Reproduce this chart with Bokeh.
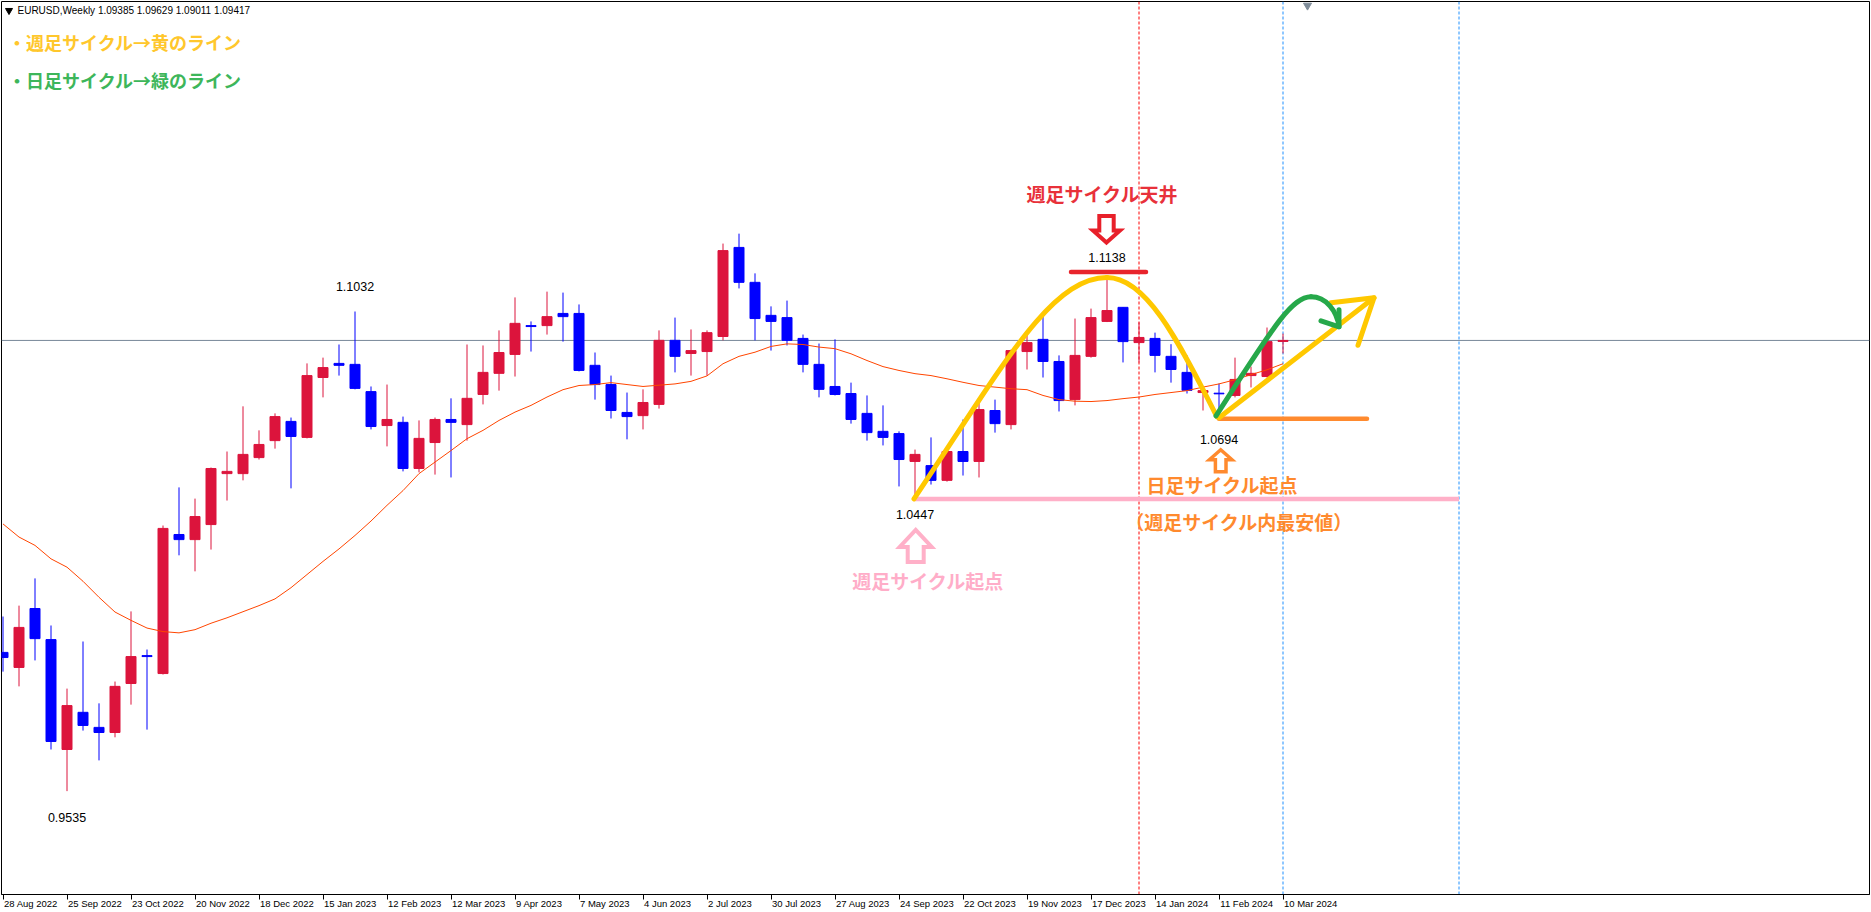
import numpy as np
from bokeh.plotting import figure
from bokeh.models import Range1d, FixedTicker, Span
from bokeh.core.properties import value
from bokeh.embed import file_html
from bokeh.resources import INLINE

# ---------------- data ----------------
symbol = "EURUSD"
timeframe = "Weekly"
tick_labels = ["28 Aug 2022", "25 Sep 2022", "23 Oct 2022", "20 Nov 2022", "18 Dec 2022",
               "15 Jan 2023", "12 Feb 2023", "12 Mar 2023", "9 Apr 2023", "7 May 2023",
               "4 Jun 2023", "2 Jul 2023", "30 Jul 2023", "27 Aug 2023", "24 Sep 2023",
               "22 Oct 2023", "19 Nov 2023", "17 Dec 2023", "14 Jan 2024", "11 Feb 2024",
               "10 Mar 2024"]
tick_every = 4

opens = [0.9968, 0.9921, 1.0105, 1.0008, 0.9665, 0.9781, 0.9734, 0.9718, 0.9871, 0.9958,
         0.9902, 1.0336, 1.0320, 1.0367, 1.0526, 1.0526, 1.0576, 1.0629, 1.0689, 1.0639,
         1.0826, 1.0870, 1.0867, 1.0782, 1.0676, 1.0686, 1.0542, 1.0623, 1.0695, 1.0679,
         1.0773, 1.0839, 1.0898, 1.0988, 1.0988, 1.1026, 1.1026, 1.0864, 1.0804, 1.0717,
         1.0707, 1.0742, 1.0942, 1.0901, 1.0907, 1.0954, 1.1232, 1.1123, 1.1020, 1.1013,
         1.0948, 1.0867, 1.0798, 1.0776, 1.0714, 1.0658, 1.0651, 1.0564, 1.0551, 1.0505,
         1.0595, 1.0564, 1.0723, 1.0679, 1.0907, 1.0945, 1.0876, 1.0757, 1.0892, 1.1001,
         1.1045, 1.0935, 1.0948, 1.0892, 1.0842, 1.0779, 1.0777, 1.0770, 1.0832, 1.0829,
         1.09385]
highs = [1.0080, 1.0114, 1.0199, 1.0052, 0.9855, 1.0002, 0.9809, 0.9877, 1.0096, 0.9977,
         1.0364, 1.0483, 1.0448, 1.0545, 1.0595, 1.0736, 1.0661, 1.0714, 1.0701, 1.0870,
         1.0888, 1.0929, 1.1032, 1.0798, 1.0804, 1.0704, 1.0692, 1.0701, 1.0761, 1.0929,
         1.0926, 1.0973, 1.1076, 1.1001, 1.1094, 1.1091, 1.1054, 1.0904, 1.0832, 1.0779,
         1.0789, 1.0973, 1.1013, 1.0976, 1.0973, 1.1244, 1.1275, 1.1151, 1.1048, 1.1066,
         1.0960, 1.0932, 1.0945, 1.0810, 1.0770, 1.0739, 1.0658, 1.0601, 1.0639, 1.0611,
         1.0695, 1.0754, 1.0757, 1.0913, 1.0966, 1.1016, 1.0895, 1.1010, 1.1041, 1.1138,
         1.1046, 1.0998, 1.0966, 1.0930, 1.0895, 1.0789, 1.0807, 1.0888, 1.0860, 1.0982,
         1.09629]
lows = [0.9908, 0.9862, 0.9943, 0.9665, 0.9535, 0.9724, 0.9631, 0.9703, 0.9805, 0.9727,
        0.9899, 1.0271, 1.0221, 1.0289, 1.0442, 1.0505, 1.0570, 1.0604, 1.0480, 1.0636,
        1.0764, 1.0832, 1.0789, 1.0664, 1.0611, 1.0533, 1.0530, 1.0523, 1.0514, 1.0629,
        1.0742, 1.0785, 1.0829, 1.0907, 1.0960, 1.0938, 1.0845, 1.0757, 1.0698, 1.0633,
        1.0664, 1.0729, 1.0842, 1.0832, 1.0832, 1.0942, 1.1104, 1.0942, 1.0910, 1.0926,
        1.0842, 1.0764, 1.0770, 1.0682, 1.0629, 1.0614, 1.0486, 1.0447, 1.0492, 1.0501,
        1.0520, 1.0514, 1.0654, 1.0664, 1.0851, 1.0826, 1.0720, 1.0739, 1.0888, 1.0999,
        1.0873, 1.0873, 1.0842, 1.0810, 1.0776, 1.0723, 1.0694, 1.0764, 1.0795, 1.0826,
        1.09011]
closes = [0.9952, 1.0046, 1.0011, 0.9690, 0.9802, 0.9740, 0.9718, 0.9862, 0.9955, 0.9955,
          1.0355, 1.0320, 1.0392, 1.0542, 1.0533, 1.0586, 1.0617, 1.0704, 1.0642, 1.0832,
          1.0857, 1.0864, 1.0792, 1.0673, 1.0695, 1.0542, 1.0636, 1.0695, 1.0686, 1.0761,
          1.0842, 1.0904, 1.0995, 1.0985, 1.1016, 1.1016, 1.0848, 1.0804, 1.0723, 1.0704,
          1.0748, 1.0942, 1.0892, 1.0910, 1.0966, 1.1222, 1.1123, 1.1010, 1.1001, 1.0942,
          1.0867, 1.0789, 1.0773, 1.0695, 1.0654, 1.0639, 1.0570, 1.0586, 1.0505, 1.0595,
          1.0564, 1.0726, 1.0682, 1.0910, 1.0935, 1.0876, 1.0754, 1.0895, 1.1013, 1.1035,
          1.0938, 1.0951, 1.0895, 1.0851, 1.0786, 1.0785, 1.0775, 1.0820, 1.0839, 1.0938,
          1.09417]
ma_line = [1.0369, 1.0328, 1.0302, 1.0260, 1.0234, 1.0190, 1.0140, 1.0094, 1.0068, 1.0044,
           1.0033, 1.0029, 1.0039, 1.0059, 1.0076, 1.0095, 1.0114, 1.0135, 1.0170, 1.0211,
           1.0252, 1.0291, 1.0333, 1.0378, 1.0427, 1.0473, 1.0526, 1.0562, 1.0598, 1.0635,
           1.0661, 1.0692, 1.0718, 1.0739, 1.0765, 1.0788, 1.0801, 1.0804, 1.0810, 1.0804,
           1.0798, 1.0802, 1.0806, 1.0814, 1.0831, 1.0869, 1.0892, 1.0905, 1.0923, 1.0931,
           1.0929, 1.0921, 1.0916, 1.0900, 1.0879, 1.0860, 1.0848, 1.0838, 1.0832, 1.0822,
           1.0811, 1.0801, 1.0796, 1.0791, 1.0788, 1.0770, 1.0757, 1.0752, 1.0751, 1.0754,
           1.0760, 1.0765, 1.0773, 1.0779, 1.0785, 1.0796, 1.0806, 1.0819, 1.0835, 1.0850,
           1.0869]

price_label_idx = [22, 4, 57, 69, 76]
price_label_side = ["high", "low", "low", "high", "low"]
week_start_idx = 57     # 週足サイクル起点
week_top_idx = 69       # 週足サイクル天井
day_start_idx = 76      # 日足サイクル起点
red_vline_idx = 71
blue_vline_idx = [80, 91]

legend_texts = ["・週足サイクル→黄のライン", "・日足サイクル→緑のライン"]
ann_top = "週足サイクル天井"
ann_week_start = "週足サイクル起点"
ann_day_start = "日足サイクル起点"
ann_day_note = "（週足サイクル内最安値）"

# ---------------- layout / styles ----------------
FL, FT = 1, 1               # frame left / top in window px
FW, FH = 1868, 893          # frame size in px
PXW = 16.0                  # px per week
PXU = 3204.0                # px per price unit
X0 = 2.5                    # window x of the first week
JP = value("Noto Sans CJK JP")
LAT = value("Liberation Sans")

YELLOW = "#FFC800"
GREEN = "#26A84A"
RED_T = "#E8313A"
PINK = "#FFB0C8"
ORANGE = "#FF8A2E"
BULL = "#DC143C"
BEAR = "#0000FF"

n = len(closes)
idx = np.arange(n)
x_start = (FL - X0) / PXW
x_end = x_start + FW / PXW
y_top = highs[22] + (311 - FT) / PXU
y_bot = y_top - FH / PXU


def sx(px):
    return x_start + (px - FL) / PXW


def sy(py):
    return y_top - (py - FT) / PXU


def off(pt, ox, oy):
    return (pt[0] + ox / PXW, pt[1] - oy / PXU)


p = figure(frame_width=FW, frame_height=FH,
           x_range=Range1d(x_start, x_end), y_range=Range1d(y_bot, y_top),
           output_backend="svg", toolbar_location=None, y_axis_location=None,
           min_border_left=FL, min_border_top=FT, min_border_right=1, min_border_bottom=0,
           background_fill_color="white", border_fill_color="white",
           outline_line_color="black", outline_line_width=1)
p.grid.visible = False

# spans (under candles)
p.add_layout(Span(location=closes[-1], dimension="width", line_color="#778899",
                  line_width=1, level="underlay"))
p.add_layout(Span(location=red_vline_idx, dimension="height", line_color="#FF0000",
                  line_width=1, line_dash="3 2", level="underlay"))
for b in blue_vline_idx:
    p.add_layout(Span(location=b, dimension="height", line_color="#1E90FF",
                      line_width=1, line_dash="3 2", level="underlay"))

# candles
o = np.array(opens); c = np.array(closes)
colors = [BULL if cc >= oo else BEAR for oo, cc in zip(o, c)]
p.segment(x0=idx, y0=lows, x1=idx, y1=highs, line_color=colors, line_width=1)
p.vbar(x=idx, width=10 / PXW, top=np.maximum(o, c), bottom=np.minimum(o, c),
       fill_color=colors, line_color=colors, line_width=1)

# moving average
p.line(idx, ma_line, line_color="#FF4500", line_width=1)

# anchors
A = (week_start_idx, lows[week_start_idx])
B = (week_top_idx, highs[week_top_idx])
C = (day_start_idx, lows[day_start_idx])

# pink / red / orange horizontal marks
pk0 = off(A, -1, 0)
p.line([pk0[0], blue_vline_idx[1]], [pk0[1], pk0[1]], line_color=PINK, line_width=4.5)
r0 = off(B, -36, -5.5); r1 = off(B, 39, -5.5)
p.line([r0[0], r1[0]], [r0[1], r1[1]], line_color="#E8242C", line_width=4.5, line_cap="round")
o0 = off(C, 0, -1); o1 = off(C, 148, -1)
p.line([o0[0], o1[0]], [o0[1], o1[1]], line_color=ORANGE, line_width=4.5, line_cap="round")


# hollow block arrows
def block_arrow(anchor, cx, tip, base, end, head_h, shaft_h):
    pts = [(cx, tip), (cx + head_h, base), (cx + shaft_h, base), (cx + shaft_h, end),
           (cx - shaft_h, end), (cx - shaft_h, base), (cx - head_h, base)]
    xs = [off(anchor, a, b)[0] for a, b in pts]
    ys = [off(anchor, a, b)[1] for a, b in pts]
    return xs, ys


xs, ys = block_arrow(B, -0.5, -35, -47, -61.5, 13.5, 7.2)
p.patch(xs, ys, fill_color=None, line_color="#E8202A", line_width=4, line_join="miter")
xs, ys = block_arrow(A, 0.7, 31, 48, 63, 16, 8)
p.patch(xs, ys, fill_color=None, line_color=PINK, line_width=4, line_join="miter")
xs, ys = block_arrow(C, 1.7, 30, 40, 52, 11.3, 5.3)
p.patch(xs, ys, fill_color=None, line_color=ORANGE, line_width=3.5, line_join="miter")


# yellow weekly cycle arc
def bez(p0, p1, p2, p3, color, w):
    p.bezier(x0=[p0[0]], y0=[p0[1]], x1=[p3[0]], y1=[p3[1]],
             cx0=[p1[0]], cy0=[p1[1]], cx1=[p2[0]], cy1=[p2[1]],
             line_color=color, line_width=w, line_cap="round")


bez(off(A, -1, 0), off(A, 86, -130), off(B, -57, 0), B, YELLOW, 5)
bez(B, off(B, 38, 0), off(C, -43, -84), off(C, -2, -3), YELLOW, 5)

# yellow straight arrow
ya0 = off(C, 0, -2); tip = off(C, 155, -122)
arm1 = off(tip, -43, 5); arm2 = off(tip, -16, 47.5)
p.multi_line([[ya0[0], tip[0]], [arm1[0], tip[0], arm2[0]]],
             [[ya0[1], tip[1]], [arm1[1], tip[1], arm2[1]]],
             line_color=YELLOW, line_width=5, line_cap="round", line_join="round")

# green daily cycle curve
g0 = off(C, -3, -4); g3 = off(C, 92, -123); gt = off(C, 120, -93)
bez(g0, off(C, 52, -89), off(C, 72, -123), g3, GREEN, 5)
bez(g3, off(C, 107, -123), off(C, 118, -109), gt, GREEN, 5)
ga1 = off(gt, -18, -6); ga2 = off(gt, 0, -17)
p.multi_line([[ga1[0], gt[0], ga2[0]]], [[ga1[1], gt[1], ga2[1]]],
             line_color=GREEN, line_width=5, line_cap="round", line_join="round")

# price labels
for i, side in zip(price_label_idx, price_label_side):
    v = highs[i] if side == "high" else lows[i]
    if i == 22:
        dy = -25
    elif i == 4:
        dy = 26
    elif side == "high":
        dy = -20
    elif i == week_start_idx:
        dy = 15.6
    else:
        dy = 20
    p.text(x=[i], y=[v], text=[f"{v:.4f}"], y_offset=dy, text_font=LAT,
           text_font_size="12.5px", text_color="black", text_align="center",
           text_baseline="middle")


# Japanese annotations
def jtext(pt, s, color, size="19px", align="center"):
    p.text(x=[pt[0]], y=[pt[1]], text=[s], text_font=JP, text_font_size=size,
           text_font_style="bold", text_color=color, text_align=align,
           text_baseline="middle")


jtext(off(B, -4.6, -84), ann_top, RED_T)
jtext(off(A, 13.2, 81.6), ann_week_start, "#FFADC8")
jtext(off(C, 3.4, 64.7), ann_day_start, ORANGE)
jtext(off(C, 20.2, 101.7), ann_day_note, ORANGE)

# legend texts (top-left)
jtext((sx(7.5), sy(41)), legend_texts[0], "#FFC72C", size="18px", align="left")
jtext((sx(7.5), sy(79)), legend_texts[1], "#3DB65A", size="18px", align="left")

# header
p.scatter(x=[sx(8.5)], y=[sy(10)], marker="inverted_triangle", size=7, color="black")
header = f"{symbol},{timeframe}  {opens[-1]:.5f} {highs[-1]:.5f} {lows[-1]:.5f} {closes[-1]:.5f}"
p.text(x=[sx(17)], y=[sy(10)], text=[header], text_font=LAT, text_font_size="10px",
       text_color="black", text_align="left", text_baseline="middle")

# chart shift marker
p.scatter(x=[sx(1307)], y=[sy(5)], marker="inverted_triangle", size=8, color="#7F8C99")

# x axis: label text left-aligned to the tick mark
AW = {'0': 556, '1': 556, '2': 556, '3': 556, '4': 556, '5': 556, '6': 556, '7': 556,
      '8': 556, '9': 556, ' ': 278, 'A': 667, 'u': 556, 'g': 556, 'S': 667, 'e': 556,
      'p': 556, 'O': 778, 'c': 500, 't': 278, 'N': 722, 'o': 556, 'v': 500, 'D': 722,
      'J': 500, 'a': 556, 'n': 556, 'F': 611, 'b': 556, 'M': 833, 'r': 333, 'y': 500,
      'l': 222}
AX_FS = 9.5


def tw(s):
    return sum(AW.get(ch, 556) for ch in s) * AX_FS / 1000.0


tick_idx = [k * tick_every for k in range(len(tick_labels))]
major_pos = [round(t + (1.0 + tw(lbl) / 2) / PXW, 4) for t, lbl in zip(tick_idx, tick_labels)]
p.xaxis.ticker = FixedTicker(ticks=major_pos, minor_ticks=tick_idx)
p.xaxis.major_label_overrides = {mp: lbl for mp, lbl in zip(major_pos, tick_labels)}
p.xaxis.major_tick_out = 0
p.xaxis.major_tick_in = 0
p.xaxis.minor_tick_out = 5
p.xaxis.minor_tick_in = 0
p.xaxis.minor_tick_line_color = "black"
p.xaxis.axis_line_color = "black"
p.xaxis.major_label_standoff = -2
p.xaxis.major_label_text_font = "Liberation Sans"
p.xaxis.major_label_text_font_size = f"{AX_FS}px"
p.xaxis.major_label_text_color = "black"

open("out.html", "w").write(file_html(p, INLINE))
